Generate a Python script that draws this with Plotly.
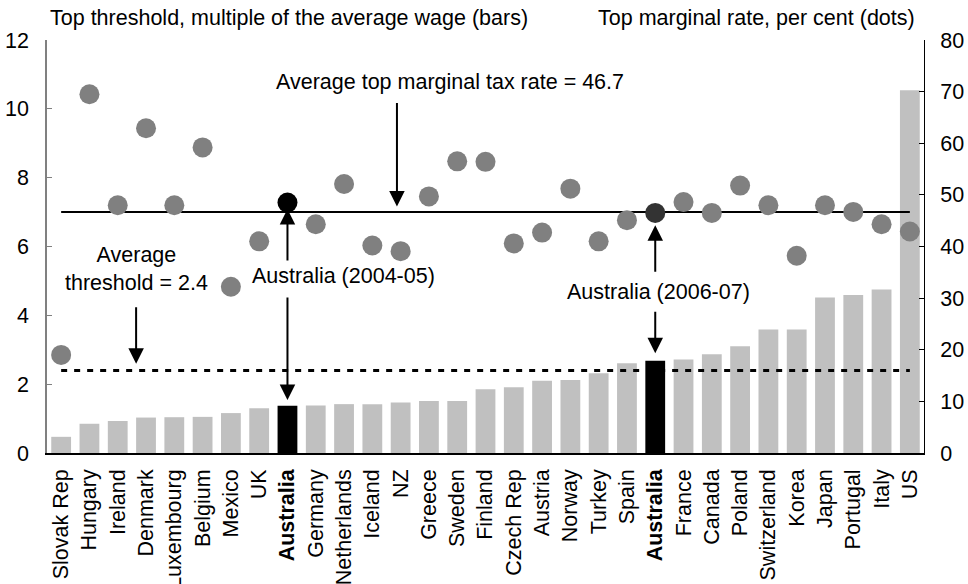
import plotly.graph_objects as go

countries = ["Slovak Rep", "Hungary", "Ireland", "Denmark", "Luxembourg", "Belgium", "Mexico", "UK",
             "Australia", "Germany", "Netherlands", "Iceland", "NZ", "Greece", "Sweden", "Finland",
             "Czech Rep", "Austria", "Norway", "Turkey", "Spain", "Australia", "France", "Canada",
             "Poland", "Switzerland", "Korea", "Japan", "Portugal", "Italy", "US"]
thresholds = [0.47, 0.85, 0.93, 1.03, 1.04, 1.05, 1.16, 1.30, 1.37, 1.38, 1.42, 1.42, 1.47, 1.51, 1.51, 1.85,
              1.91, 2.10, 2.12, 2.32, 2.61, 2.68, 2.72, 2.87, 3.10, 3.59, 3.59, 4.52, 4.59, 4.75, 10.54]
top_rates = [19.0, 69.5, 48.0, 62.9, 48.0, 59.2, 32.2, 41.0, 48.5, 44.3, 52.1, 40.2, 39.1, 49.7, 56.5, 56.4,
             40.6, 42.7, 51.2, 41.0, 45.1, 46.5, 48.6, 46.5, 51.8, 48.0, 38.2, 48.0, 46.7, 44.3, 42.9]
aus_idx = [8, 21]
avg_top_rate = 46.7
avg_threshold = 2.4

FONT = "Liberation Sans, Arial, sans-serif"
FS = 21.5

x = list(range(len(countries)))
bar_colors = ["#000000" if i in aus_idx else "#c0c0c0" for i in x]
dot_colors = ["#000000" if i == aus_idx[0] else ("#333333" if i == aus_idx[1] else "#808080") for i in x]
ticktext = ["<b>%s</b>" % c if i in aus_idx else c for i, c in enumerate(countries)]

fig = go.Figure()
fig.add_trace(go.Bar(x=x, y=thresholds, marker=dict(color=bar_colors, line=dict(width=0)),
                     yaxis="y", showlegend=False))
fig.add_trace(go.Scatter(x=[x[0], x[-1]], y=[avg_top_rate * 12 / 80] * 2, mode="lines",
                         line=dict(color="black", width=2), yaxis="y", showlegend=False))
fig.add_trace(go.Scatter(x=[x[0], x[-1]], y=[avg_threshold] * 2, mode="lines",
                         line=dict(color="black", width=3, dash="6px,7px"), yaxis="y", showlegend=False))
fig.add_trace(go.Scatter(x=x, y=top_rates, mode="markers",
                         marker=dict(color=dot_colors, size=20, line=dict(width=0)),
                         yaxis="y2", showlegend=False))

ann = []
def arrow(xv, yv, ay):
    ann.append(dict(x=xv, y=yv, xref="x", yref="y", text="", showarrow=True, ax=0, ay=ay,
                    arrowhead=2, arrowsize=1.55, arrowwidth=2, arrowcolor="black", standoff=0))

def label(xv, yv, text):
    ann.append(dict(x=xv, y=yv, xref="x", yref="y", text=text, showarrow=False,
                    font=dict(family=FONT, size=FS, color="black"), xanchor="center", yanchor="middle"))

label(13.75, 10.78, "Average top marginal tax rate = 46.7")
arrow(11.87, 7.16, -105)
label(2.67, 5.35, "Average<br>threshold = 2.4")
arrow(2.65, 2.59, -58)
label(9.97, 5.14, "Australia (2004-05)")
arrow(aus_idx[0], 7.09, 53)
arrow(aus_idx[0], 1.54, -104)
label(21.12, 4.69, "Australia (2006-07)")
arrow(aus_idx[1], 6.62, 48)
arrow(aus_idx[1], 2.90, -43)

ann.append(dict(x=0.001, y=1.053, xref="paper", yref="paper", text="Top threshold, multiple of the average wage (bars)",
                showarrow=False, xanchor="left", yanchor="middle", font=dict(family=FONT, size=FS, color="black")))
ann.append(dict(x=0.992, y=1.053, xref="paper", yref="paper", text="Top marginal rate, per cent (dots)",
                showarrow=False, xanchor="right", yanchor="middle", font=dict(family=FONT, size=FS, color="black")))

fig.update_layout(
    width=968, height=584,
    margin=dict(l=47, r=44, t=40, b=131),
    paper_bgcolor="white", plot_bgcolor="white",
    font=dict(family=FONT, size=FS, color="black"),
    bargap=0.3,
    annotations=ann,
    xaxis=dict(range=[-0.5, len(countries) - 0.5], tickmode="array", tickvals=x, ticktext=ticktext,
               tickangle=-90, showline=True, linecolor="black", linewidth=1.5, ticks="",
               showgrid=False, zeroline=False, ticklabelstandoff=6, automargin=False,
               tickfont=dict(family=FONT, size=FS, color="black")),
    yaxis=dict(range=[0, 12], tickvals=[0, 2, 4, 6, 8, 10, 12], showline=True, linecolor="#808080",
               linewidth=1.5, ticks="inside", ticklen=5, tickcolor="#808080", showgrid=False, zeroline=False,
               ticklabelstandoff=12, automargin=False, tickfont=dict(family=FONT, size=FS, color="black")),
    yaxis2=dict(range=[0, 80], tickvals=[0, 10, 20, 30, 40, 50, 60, 70, 80], overlaying="y", side="right",
                showline=True, linecolor="black", linewidth=1, ticks="inside", ticklen=5, tickcolor="black",
                showgrid=False, zeroline=False, ticklabelstandoff=11, automargin=False,
                tickfont=dict(family=FONT, size=FS, color="black")),
)

fig.write_html("out.html", config={"displayModeBar": False},
               post_script="document.body.style.margin='0px';document.body.style.padding='0px';"
                           "document.body.style.overflow='hidden';")
